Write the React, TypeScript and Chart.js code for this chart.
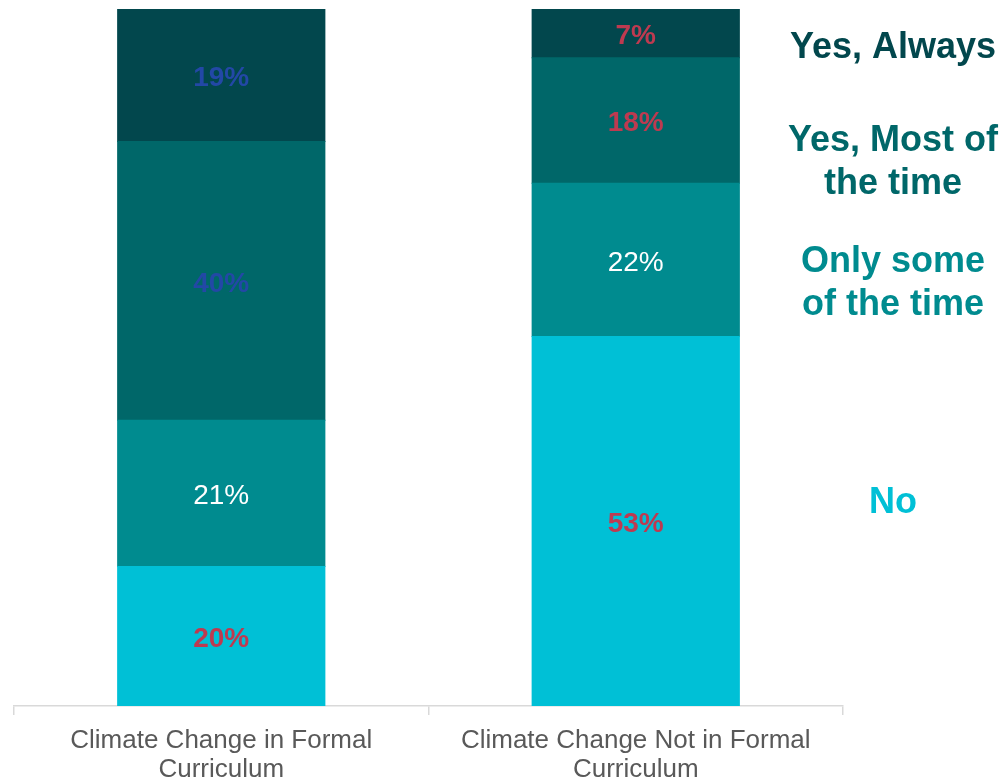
import React, { useEffect, useRef } from "react";
import { Chart, registerables } from "chart.js";

Chart.register(...registerables);

const categories = [
  ["Climate Change in Formal", "Curriculum"],
  ["Climate Change Not in Formal", "Curriculum"],
];
const seriesNames = ["No", "Only some of the time", "Yes, Most of the time", "Yes, Always"];
const noValues = [20, 53];
const someValues = [21, 22];
const mostValues = [40, 18];
const alwaysValues = [19, 7];
const seriesColors = ["#00C0D6", "#008B8F", "#006769", "#02474D"];

// label styles per series per category: [color, bold]
const RED = "#BE3A50";
const BLUE = "#2348A6";
const labelStyles: [string, boolean][][] = [
  [[RED, true], [RED, true]],
  [["#FFFFFF", false], ["#FFFFFF", false]],
  [[BLUE, true], [RED, true]],
  [[BLUE, true], [RED, true]],
];

const legendLines: { lines: string[]; y: number; color: string }[] = [
  { lines: ["Yes, Always"], y: 48, color: "#02474D" },
  { lines: ["Yes, Most of", "the time"], y: 163, color: "#006769" },
  { lines: ["Only some", "of the time"], y: 284, color: "#008B8F" },
  { lines: ["No"], y: 503, color: "#00C0D6" },
];

const FONT = "'Liberation Sans', Arial, sans-serif";

const labelPlugin = {
  id: "segLabels",
  afterDatasetsDraw(chart: any) {
    const ctx = chart.ctx;
    ctx.save();
    ctx.textAlign = "center";
    ctx.textBaseline = "middle";
    chart.data.datasets.forEach((ds: any, di: number) => {
      const meta = chart.getDatasetMeta(di);
      meta.data.forEach((el: any, i: number) => {
        const [color, bold] = labelStyles[di][i];
        ctx.fillStyle = color;
        ctx.font = `${bold ? "bold " : ""}28px ${FONT}`;
        const y = (el.y + el.base) / 2 + 3;
        ctx.fillText(`${ds.data[i]}%`, el.x, y);
      });
    });
    ctx.restore();
  },
};

const sideLegendPlugin = {
  id: "sideLegend",
  afterDraw(chart: any) {
    const ctx = chart.ctx;
    const x = chart.chartArea.right + 50;
    ctx.save();
    ctx.textAlign = "center";
    ctx.textBaseline = "middle";
    ctx.font = `bold 36px ${FONT}`;
    legendLines.forEach((item) => {
      ctx.fillStyle = item.color;
      const lh = 43;
      const start = item.y - ((item.lines.length - 1) * lh) / 2;
      item.lines.forEach((t, k) => ctx.fillText(t, x, start + k * lh));
    });
    ctx.restore();
  },
};

export default function App() {
  const ref = useRef<HTMLCanvasElement>(null);
  useEffect(() => {
    const values = [noValues, someValues, mostValues, alwaysValues];
    const chart = new Chart(ref.current!, {
      type: "bar",
      data: {
        labels: categories as any,
        datasets: seriesNames.map((n, i) => ({
          label: n,
          data: values[i],
          backgroundColor: seriesColors[i],
          borderWidth: 0,
          inflateAmount: 0.5,
          barPercentage: 0.5,
          categoryPercentage: 1,
        })),
      },
      options: {
        animation: false,
        responsive: false,
        maintainAspectRatio: false,
        layout: { padding: { left: 14, right: 164, top: 9, bottom: 0 } },
        plugins: { legend: { display: false }, tooltip: { enabled: false } },
        scales: {
          x: {
            stacked: true,
            grid: {
              display: true,
              offset: true,
              drawOnChartArea: false,
              drawTicks: true,
              tickLength: 9,
              color: "#D9D9D9",
              lineWidth: 1.5,
            },
            border: { display: true, color: "#D9D9D9", width: 1.5 },
            ticks: {
              color: "#595959",
              font: { family: FONT, size: 26, lineHeight: 1.13 },
              padding: 11,
              maxRotation: 0,
              autoSkip: false,
            },
            afterFit(scale: any) {
              scale.height = 74;
            },
          },
          y: {
            stacked: true,
            display: false,
            min: 0,
            max: 100,
          },
        },
      },
      plugins: [labelPlugin, sideLegendPlugin],
    });
    return () => chart.destroy();
  }, []);
  return (
    <div style={{ position: "absolute", left: 0, top: 0, width: 1007, height: 780, background: "#fff" }}>
      <canvas ref={ref} width={1007} height={780} style={{ width: 1007, height: 780, display: "block" }} />
    </div>
  );
}
